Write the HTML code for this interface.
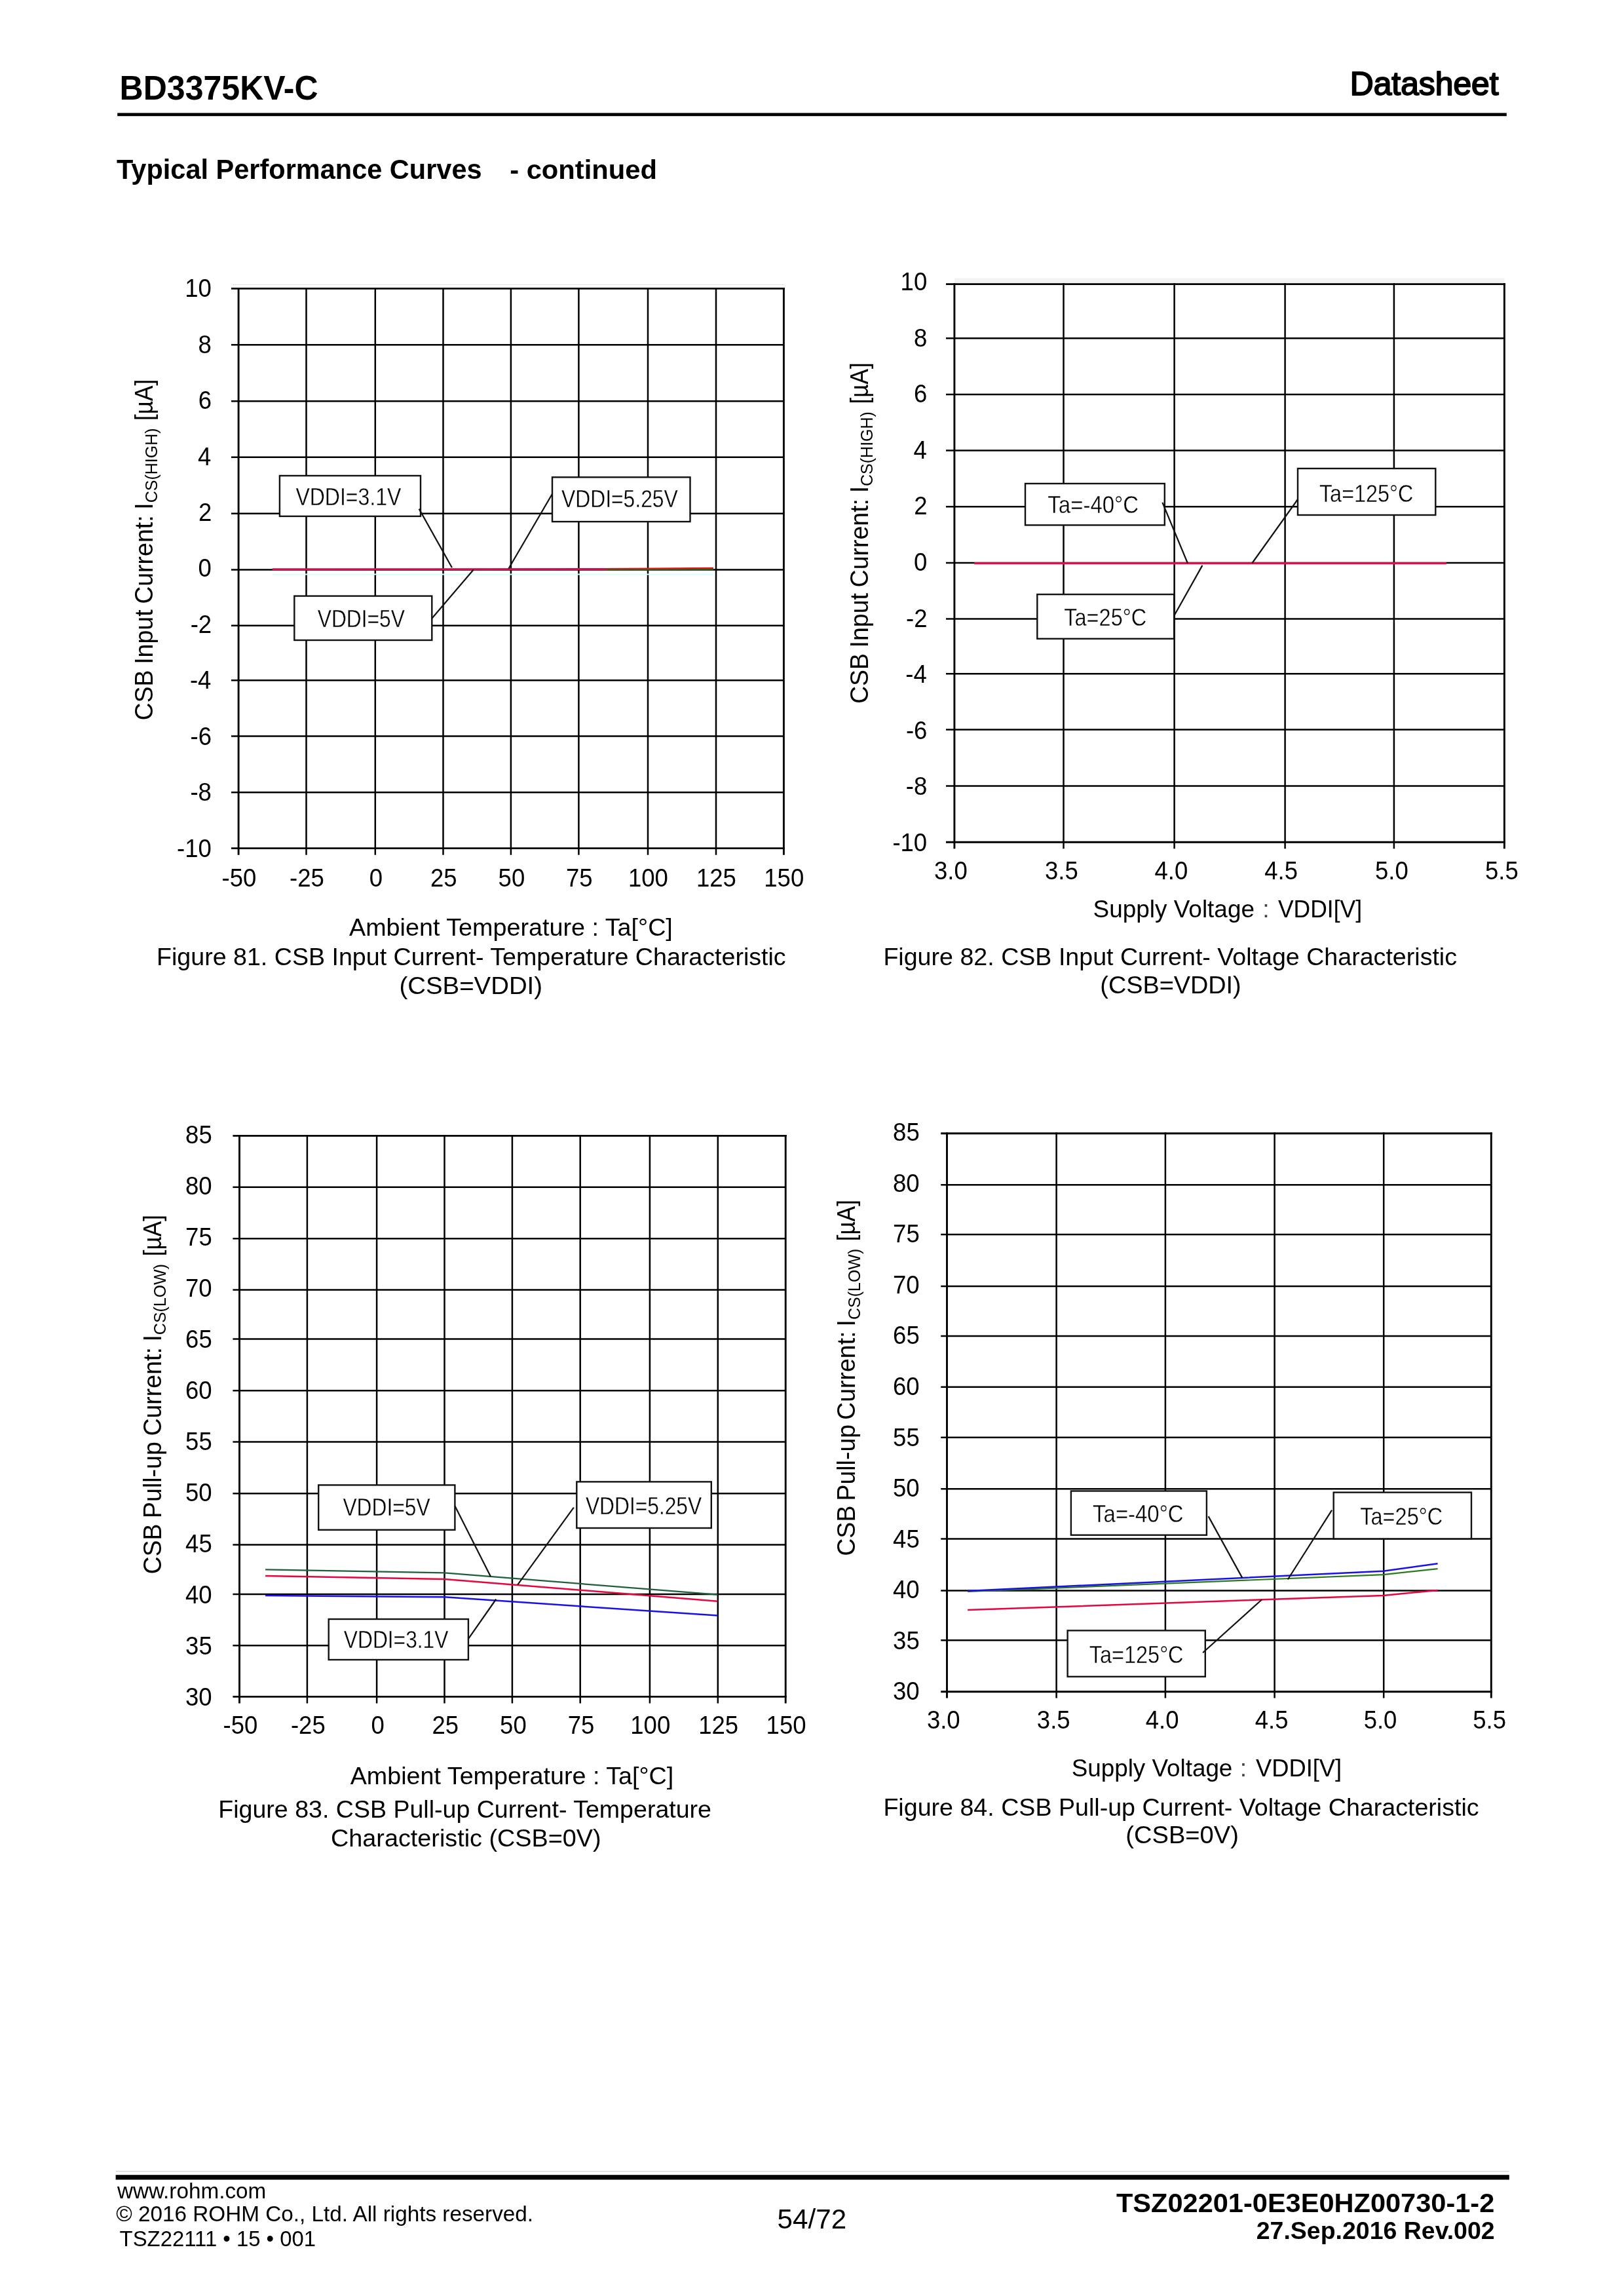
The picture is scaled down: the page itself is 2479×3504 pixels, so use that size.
<!DOCTYPE html>
<html><head><meta charset="utf-8"><title>BD3375KV-C Datasheet</title>
<style>
html,body{margin:0;padding:0;background:#fff;}
body{width:2479px;height:3504px;overflow:hidden;font-family:"Liberation Sans",sans-serif;}
svg{display:block;font-family:"Liberation Sans",sans-serif;will-change:transform;}
text{white-space:pre;}
</style></head><body>
<svg width="2479" height="3504" viewBox="0 0 2479 3504">
<text transform="translate(182.60 151.60) scale(1.0007 1.04)" font-size="50" font-weight="bold" fill="#000">BD3375KV-C</text>
<text transform="translate(2060.72 145.00) scale(0.9955 0.985)" font-size="50" fill="#000" stroke="#000" stroke-width="2.0" stroke-linejoin="round">Datasheet</text>
<rect x="179.20" y="172.40" width="2120.60" height="4.80" fill="#000"/>
<text transform="translate(178.10 273.20) scale(0.9964 1.0)" font-size="41.67" font-weight="bold" fill="#000">Typical Performance Curves</text>
<text transform="translate(778.20 273.20) scale(1.0014 0.98)" font-size="41.67" font-weight="bold" fill="#000">- continued</text>
<rect x="355.00" y="434.00" width="842.00" height="1.00" fill="#e4e4e4"/>
<line x1="364.10" y1="438.95" x2="364.10" y2="1304.70" stroke="#000" stroke-width="2.9" stroke-linecap="butt"/>
<line x1="467.50" y1="438.95" x2="467.50" y2="1304.70" stroke="#000" stroke-width="2.5" stroke-linecap="butt"/>
<line x1="572.80" y1="438.95" x2="572.80" y2="1304.70" stroke="#000" stroke-width="2.5" stroke-linecap="butt"/>
<line x1="676.50" y1="438.95" x2="676.50" y2="1304.70" stroke="#000" stroke-width="2.5" stroke-linecap="butt"/>
<line x1="779.90" y1="438.95" x2="779.90" y2="1304.70" stroke="#000" stroke-width="2.5" stroke-linecap="butt"/>
<line x1="883.40" y1="438.95" x2="883.40" y2="1304.70" stroke="#000" stroke-width="2.5" stroke-linecap="butt"/>
<line x1="989.00" y1="438.95" x2="989.00" y2="1304.70" stroke="#000" stroke-width="2.5" stroke-linecap="butt"/>
<line x1="1093.00" y1="438.95" x2="1093.00" y2="1304.70" stroke="#000" stroke-width="2.5" stroke-linecap="butt"/>
<line x1="1196.40" y1="438.95" x2="1196.40" y2="1304.70" stroke="#000" stroke-width="2.9" stroke-linecap="butt"/>
<line x1="353.00" y1="440.40" x2="1197.85" y2="440.40" stroke="#000" stroke-width="2.9" stroke-linecap="butt"/>
<line x1="353.00" y1="526.20" x2="1196.40" y2="526.20" stroke="#000" stroke-width="2.5" stroke-linecap="butt"/>
<line x1="353.00" y1="612.30" x2="1196.40" y2="612.30" stroke="#000" stroke-width="2.5" stroke-linecap="butt"/>
<line x1="353.00" y1="697.70" x2="1196.40" y2="697.70" stroke="#000" stroke-width="2.5" stroke-linecap="butt"/>
<line x1="353.00" y1="783.70" x2="1196.40" y2="783.70" stroke="#000" stroke-width="2.5" stroke-linecap="butt"/>
<line x1="353.00" y1="869.40" x2="1196.40" y2="869.40" stroke="#000" stroke-width="2.5" stroke-linecap="butt"/>
<line x1="353.00" y1="954.80" x2="1196.40" y2="954.80" stroke="#000" stroke-width="2.5" stroke-linecap="butt"/>
<line x1="353.00" y1="1038.30" x2="1196.40" y2="1038.30" stroke="#000" stroke-width="2.5" stroke-linecap="butt"/>
<line x1="353.00" y1="1123.50" x2="1196.40" y2="1123.50" stroke="#000" stroke-width="2.5" stroke-linecap="butt"/>
<line x1="353.00" y1="1209.20" x2="1196.40" y2="1209.20" stroke="#000" stroke-width="2.5" stroke-linecap="butt"/>
<line x1="353.00" y1="1294.60" x2="1197.85" y2="1294.60" stroke="#000" stroke-width="2.9" stroke-linecap="butt"/>
<text transform="translate(282.20 453.30) scale(1.0000 1.04)" font-size="36.5">10</text>
<text transform="translate(302.60 538.72) scale(1.0000 1.04)" font-size="36.5">8</text>
<text transform="translate(302.70 624.14) scale(1.0000 1.04)" font-size="36.5">6</text>
<text transform="translate(302.10 709.56) scale(1.0000 1.04)" font-size="36.5">4</text>
<text transform="translate(302.90 794.98) scale(1.0000 1.04)" font-size="36.5">2</text>
<text transform="translate(302.50 880.40) scale(1.0000 1.04)" font-size="36.5">0</text>
<text transform="translate(290.70 965.82) scale(1.0000 1.04)" font-size="36.5">-2</text>
<text transform="translate(289.90 1051.24) scale(1.0000 1.04)" font-size="36.5">-4</text>
<text transform="translate(290.50 1136.66) scale(1.0000 1.04)" font-size="36.5">-6</text>
<text transform="translate(290.40 1222.08) scale(1.0000 1.04)" font-size="36.5">-8</text>
<text transform="translate(270.00 1307.50) scale(1.0000 1.04)" font-size="36.5">-10</text>
<text transform="translate(338.60 1352.70) scale(1.0000 1.04)" font-size="36.5" fill="#000">-50</text>
<text transform="translate(442.05 1352.70) scale(1.0000 1.04)" font-size="36.5" fill="#000">-25</text>
<text transform="translate(563.65 1352.70) scale(1.0000 1.04)" font-size="36.5" fill="#000">0</text>
<text transform="translate(657.05 1352.70) scale(1.0000 1.04)" font-size="36.5" fill="#000">25</text>
<text transform="translate(760.60 1352.70) scale(1.0000 1.04)" font-size="36.5" fill="#000">50</text>
<text transform="translate(863.95 1352.70) scale(1.0000 1.04)" font-size="36.5" fill="#000">75</text>
<text transform="translate(958.90 1352.70) scale(1.0000 1.04)" font-size="36.5" fill="#000">100</text>
<text transform="translate(1062.95 1352.70) scale(1.0000 1.04)" font-size="36.5" fill="#000">125</text>
<text transform="translate(1166.30 1352.70) scale(1.0000 1.04)" font-size="36.5" fill="#000">150</text>
<line x1="415.70" y1="876.60" x2="1089.00" y2="876.60" stroke="#d6ffff" stroke-width="2.0" stroke-linecap="butt"/>
<polyline points="415.7,868.9 930.0,868.6" fill="none" stroke="#d4104e" stroke-width="3.2" stroke-linejoin="round"/>
<polyline points="925.0,869.7 1089.0,869.5" fill="none" stroke="#156b20" stroke-width="2.2" stroke-linejoin="round"/>
<polyline points="925.0,868.0 1000.0,867.6 1089.0,866.9" fill="none" stroke="#e01818" stroke-width="2.2" stroke-linejoin="round"/>
<rect x="426.90" y="726.00" width="215.10" height="61.90" fill="#fff" stroke="#111" stroke-width="2.4"/>
<text transform="translate(451.41 770.60) scale(0.9415 1.07)" font-size="34" fill="#000" stroke="#fff" stroke-width="0.35">VDDI=3.1V</text>
<rect x="843.00" y="728.30" width="210.50" height="67.80" fill="#fff" stroke="#111" stroke-width="2.4"/>
<text transform="translate(856.91 774.30) scale(0.9368 1.07)" font-size="34" fill="#000" stroke="#fff" stroke-width="0.35">VDDI=5.25V</text>
<rect x="449.30" y="909.60" width="210.00" height="67.40" fill="#fff" stroke="#111" stroke-width="2.4"/>
<text transform="translate(484.71 956.50) scale(0.9340 1.07)" font-size="34" fill="#000" stroke="#fff" stroke-width="0.35">VDDI=5V</text>
<text transform="translate(533.00 1427.90) scale(1.0061 1.0)" font-size="37.5" fill="#000">Ambient Temperature : Ta[°C]</text>
<text transform="translate(238.99 1473.00) scale(1.0030 1.0)" font-size="37.5" fill="#000">Figure 81. CSB Input Current- Temperature Characteristic</text>
<text transform="translate(609.44 1517.00) scale(1.0239 1.0)" font-size="37.5" fill="#000">(CSB=VDDI)</text>
<text transform="translate(233.20 1099.50) rotate(-90) scale(1 1.05)" font-size="37.5" word-spacing="-1.8">CSB Input Current: I<tspan font-size="25" dy="6.76">CS(HIGH)</tspan></text>
<text transform="translate(233.20 641.99) rotate(-90) scale(0.9389 1.05)" font-size="37.5">[µA]</text>
<rect x="1457.00" y="424.50" width="839.40" height="8.00" fill="#f3f3f3"/>
<line x1="1456.90" y1="432.15" x2="1456.90" y2="1295.30" stroke="#000" stroke-width="2.9" stroke-linecap="butt"/>
<line x1="1623.50" y1="432.15" x2="1623.50" y2="1295.30" stroke="#000" stroke-width="2.5" stroke-linecap="butt"/>
<line x1="1792.60" y1="432.15" x2="1792.60" y2="1295.30" stroke="#000" stroke-width="2.5" stroke-linecap="butt"/>
<line x1="1961.60" y1="432.15" x2="1961.60" y2="1295.30" stroke="#000" stroke-width="2.5" stroke-linecap="butt"/>
<line x1="2127.90" y1="432.15" x2="2127.90" y2="1295.30" stroke="#000" stroke-width="2.5" stroke-linecap="butt"/>
<line x1="2296.40" y1="432.15" x2="2296.40" y2="1295.30" stroke="#000" stroke-width="2.9" stroke-linecap="butt"/>
<line x1="1444.00" y1="433.60" x2="2297.85" y2="433.60" stroke="#000" stroke-width="2.9" stroke-linecap="butt"/>
<line x1="1444.00" y1="516.20" x2="2296.40" y2="516.20" stroke="#000" stroke-width="2.5" stroke-linecap="butt"/>
<line x1="1444.00" y1="601.90" x2="2296.40" y2="601.90" stroke="#000" stroke-width="2.5" stroke-linecap="butt"/>
<line x1="1444.00" y1="687.50" x2="2296.40" y2="687.50" stroke="#000" stroke-width="2.5" stroke-linecap="butt"/>
<line x1="1444.00" y1="773.30" x2="2296.40" y2="773.30" stroke="#000" stroke-width="2.5" stroke-linecap="butt"/>
<line x1="1444.00" y1="859.00" x2="2296.40" y2="859.00" stroke="#000" stroke-width="2.5" stroke-linecap="butt"/>
<line x1="1444.00" y1="944.60" x2="2296.40" y2="944.60" stroke="#000" stroke-width="2.5" stroke-linecap="butt"/>
<line x1="1444.00" y1="1028.30" x2="2296.40" y2="1028.30" stroke="#000" stroke-width="2.5" stroke-linecap="butt"/>
<line x1="1444.00" y1="1113.50" x2="2296.40" y2="1113.50" stroke="#000" stroke-width="2.5" stroke-linecap="butt"/>
<line x1="1444.00" y1="1199.60" x2="2296.40" y2="1199.60" stroke="#000" stroke-width="2.5" stroke-linecap="butt"/>
<line x1="1444.00" y1="1285.30" x2="2297.85" y2="1285.30" stroke="#000" stroke-width="2.9" stroke-linecap="butt"/>
<text transform="translate(1374.60 443.30) scale(1.0000 1.04)" font-size="36.5">10</text>
<text transform="translate(1395.00 528.84) scale(1.0000 1.04)" font-size="36.5">8</text>
<text transform="translate(1395.10 614.38) scale(1.0000 1.04)" font-size="36.5">6</text>
<text transform="translate(1394.50 699.92) scale(1.0000 1.04)" font-size="36.5">4</text>
<text transform="translate(1395.30 785.46) scale(1.0000 1.04)" font-size="36.5">2</text>
<text transform="translate(1394.90 871.00) scale(1.0000 1.04)" font-size="36.5">0</text>
<text transform="translate(1383.10 956.54) scale(1.0000 1.04)" font-size="36.5">-2</text>
<text transform="translate(1382.30 1042.08) scale(1.0000 1.04)" font-size="36.5">-4</text>
<text transform="translate(1382.90 1127.62) scale(1.0000 1.04)" font-size="36.5">-6</text>
<text transform="translate(1382.80 1213.16) scale(1.0000 1.04)" font-size="36.5">-8</text>
<text transform="translate(1362.40 1298.70) scale(1.0000 1.04)" font-size="36.5">-10</text>
<text transform="translate(1426.00 1342.00) scale(1.0000 1.04)" font-size="36.5" fill="#000">3.0</text>
<text transform="translate(1595.05 1342.00) scale(1.0000 1.04)" font-size="36.5" fill="#000">3.5</text>
<text transform="translate(1762.55 1342.00) scale(1.0000 1.04)" font-size="36.5" fill="#000">4.0</text>
<text transform="translate(1930.30 1342.00) scale(1.0000 1.04)" font-size="36.5" fill="#000">4.5</text>
<text transform="translate(2098.95 1342.00) scale(1.0000 1.04)" font-size="36.5" fill="#000">5.0</text>
<text transform="translate(2267.00 1342.00) scale(1.0000 1.04)" font-size="36.5" fill="#000">5.5</text>
<polyline points="1487.2,859.6 2207.8,859.6" fill="none" stroke="#e0104e" stroke-width="3.2" stroke-linejoin="round"/>
<rect x="1565.00" y="738.00" width="212.80" height="63.40" fill="#fff" stroke="#111" stroke-width="2.4"/>
<text transform="translate(1599.32 782.70) scale(0.9709 1.07)" font-size="34" fill="#000" stroke="#fff" stroke-width="0.35">Ta=-40°C</text>
<rect x="1981.00" y="715.00" width="210.30" height="71.00" fill="#fff" stroke="#111" stroke-width="2.4"/>
<text transform="translate(2013.93 765.90) scale(0.9529 1.07)" font-size="34" fill="#000" stroke="#fff" stroke-width="0.35">Ta=125°C</text>
<rect x="1583.30" y="907.10" width="208.90" height="67.70" fill="#fff" stroke="#111" stroke-width="2.4"/>
<text transform="translate(1624.33 955.00) scale(0.9553 1.07)" font-size="34" fill="#000" stroke="#fff" stroke-width="0.35">Ta=25°C</text>
<text transform="translate(1668.52 1400.20) scale(0.9854 1.0)" font-size="37.5" fill="#000">Supply Voltage</text>
<text transform="translate(1927.30 1400.20) scale(1.0000 1.0)" font-size="37.5" fill="#444">:</text>
<text transform="translate(1950.91 1400.20) scale(0.9465 1.0)" font-size="37.5" fill="#000">VDDI[V]</text>
<text transform="translate(1348.39 1473.20) scale(1.0028 1.0)" font-size="37.5" fill="#000">Figure 82. CSB Input Current- Voltage Characteristic</text>
<text transform="translate(1679.28 1516.30) scale(1.0091 1.0)" font-size="37.5" fill="#000">(CSB=VDDI)</text>
<text transform="translate(1324.90 1074.10) rotate(-90) scale(1 1.05)" font-size="37.5" word-spacing="-1.8">CSB Input Current: I<tspan font-size="25" dy="6.76">CS(HIGH)</tspan></text>
<text transform="translate(1324.90 616.59) rotate(-90) scale(0.9389 1.05)" font-size="37.5">[µA]</text>
<line x1="365.50" y1="1731.95" x2="365.50" y2="2599.60" stroke="#000" stroke-width="2.9" stroke-linecap="butt"/>
<line x1="468.90" y1="1731.95" x2="468.90" y2="2599.60" stroke="#000" stroke-width="2.5" stroke-linecap="butt"/>
<line x1="575.10" y1="1731.95" x2="575.10" y2="2599.60" stroke="#000" stroke-width="2.5" stroke-linecap="butt"/>
<line x1="678.50" y1="1731.95" x2="678.50" y2="2599.60" stroke="#000" stroke-width="2.5" stroke-linecap="butt"/>
<line x1="781.90" y1="1731.95" x2="781.90" y2="2599.60" stroke="#000" stroke-width="2.5" stroke-linecap="butt"/>
<line x1="885.70" y1="1731.95" x2="885.70" y2="2599.60" stroke="#000" stroke-width="2.5" stroke-linecap="butt"/>
<line x1="991.90" y1="1731.95" x2="991.90" y2="2599.60" stroke="#000" stroke-width="2.5" stroke-linecap="butt"/>
<line x1="1095.80" y1="1731.95" x2="1095.80" y2="2599.60" stroke="#000" stroke-width="2.5" stroke-linecap="butt"/>
<line x1="1199.20" y1="1731.95" x2="1199.20" y2="2599.60" stroke="#000" stroke-width="2.9" stroke-linecap="butt"/>
<line x1="355.40" y1="1733.40" x2="1200.65" y2="1733.40" stroke="#000" stroke-width="2.9" stroke-linecap="butt"/>
<line x1="355.40" y1="1811.80" x2="1199.20" y2="1811.80" stroke="#000" stroke-width="2.5" stroke-linecap="butt"/>
<line x1="355.40" y1="1890.30" x2="1199.20" y2="1890.30" stroke="#000" stroke-width="2.5" stroke-linecap="butt"/>
<line x1="355.40" y1="1968.50" x2="1199.20" y2="1968.50" stroke="#000" stroke-width="2.5" stroke-linecap="butt"/>
<line x1="355.40" y1="2043.60" x2="1199.20" y2="2043.60" stroke="#000" stroke-width="2.5" stroke-linecap="butt"/>
<line x1="355.40" y1="2122.30" x2="1199.20" y2="2122.30" stroke="#000" stroke-width="2.5" stroke-linecap="butt"/>
<line x1="355.40" y1="2200.50" x2="1199.20" y2="2200.50" stroke="#000" stroke-width="2.5" stroke-linecap="butt"/>
<line x1="355.40" y1="2279.20" x2="1199.20" y2="2279.20" stroke="#000" stroke-width="2.5" stroke-linecap="butt"/>
<line x1="355.40" y1="2357.40" x2="1199.20" y2="2357.40" stroke="#000" stroke-width="2.5" stroke-linecap="butt"/>
<line x1="355.40" y1="2433.10" x2="1199.20" y2="2433.10" stroke="#000" stroke-width="2.5" stroke-linecap="butt"/>
<line x1="355.40" y1="2511.20" x2="1199.20" y2="2511.20" stroke="#000" stroke-width="2.5" stroke-linecap="butt"/>
<line x1="355.40" y1="2589.40" x2="1200.65" y2="2589.40" stroke="#000" stroke-width="2.9" stroke-linecap="butt"/>
<text transform="translate(283.10 1744.50) scale(1.0000 1.04)" font-size="36.5">85</text>
<text transform="translate(283.00 1822.56) scale(1.0000 1.04)" font-size="36.5">80</text>
<text transform="translate(283.10 1900.62) scale(1.0000 1.04)" font-size="36.5">75</text>
<text transform="translate(283.00 1978.68) scale(1.0000 1.04)" font-size="36.5">70</text>
<text transform="translate(283.10 2056.74) scale(1.0000 1.04)" font-size="36.5">65</text>
<text transform="translate(283.00 2134.80) scale(1.0000 1.04)" font-size="36.5">60</text>
<text transform="translate(283.10 2212.86) scale(1.0000 1.04)" font-size="36.5">55</text>
<text transform="translate(283.00 2290.92) scale(1.0000 1.04)" font-size="36.5">50</text>
<text transform="translate(283.10 2368.98) scale(1.0000 1.04)" font-size="36.5">45</text>
<text transform="translate(283.00 2447.04) scale(1.0000 1.04)" font-size="36.5">40</text>
<text transform="translate(283.10 2525.10) scale(1.0000 1.04)" font-size="36.5">35</text>
<text transform="translate(283.00 2603.16) scale(1.0000 1.04)" font-size="36.5">30</text>
<text transform="translate(340.50 2646.40) scale(1.0000 1.04)" font-size="36.5" fill="#000">-50</text>
<text transform="translate(443.95 2646.40) scale(1.0000 1.04)" font-size="36.5" fill="#000">-25</text>
<text transform="translate(566.45 2646.40) scale(1.0000 1.04)" font-size="36.5" fill="#000">0</text>
<text transform="translate(659.55 2646.40) scale(1.0000 1.04)" font-size="36.5" fill="#000">25</text>
<text transform="translate(763.10 2646.40) scale(1.0000 1.04)" font-size="36.5" fill="#000">50</text>
<text transform="translate(866.75 2646.40) scale(1.0000 1.04)" font-size="36.5" fill="#000">75</text>
<text transform="translate(962.30 2646.40) scale(1.0000 1.04)" font-size="36.5" fill="#000">100</text>
<text transform="translate(1066.25 2646.40) scale(1.0000 1.04)" font-size="36.5" fill="#000">125</text>
<text transform="translate(1169.60 2646.40) scale(1.0000 1.04)" font-size="36.5" fill="#000">150</text>
<polyline points="405.1,2395.4 678.5,2400.4 1095.4,2433.7" fill="none" stroke="#1f5f3c" stroke-width="2.2" stroke-linejoin="round"/>
<polyline points="405.1,2405.0 678.5,2410.0 1095.4,2443.7" fill="none" stroke="#e4063c" stroke-width="2.5" stroke-linejoin="round"/>
<polyline points="405.1,2435.0 678.5,2437.3 1095.4,2465.6" fill="none" stroke="#1a10e8" stroke-width="2.5" stroke-linejoin="round"/>
<rect x="486.20" y="2266.40" width="208.20" height="68.40" fill="#fff" stroke="#111" stroke-width="2.4"/>
<text transform="translate(523.41 2312.90) scale(0.9340 1.07)" font-size="34" fill="#000" stroke="#fff" stroke-width="0.35">VDDI=5V</text>
<rect x="880.30" y="2261.40" width="205.50" height="70.60" fill="#fff" stroke="#111" stroke-width="2.4"/>
<text transform="translate(893.91 2310.60) scale(0.9336 1.07)" font-size="34" fill="#000" stroke="#fff" stroke-width="0.35">VDDI=5.25V</text>
<rect x="501.70" y="2471.00" width="213.20" height="62.00" fill="#fff" stroke="#111" stroke-width="2.4"/>
<text transform="translate(524.81 2514.80) scale(0.9333 1.07)" font-size="34" fill="#000" stroke="#fff" stroke-width="0.35">VDDI=3.1V</text>
<text transform="translate(534.70 2722.90) scale(1.0057 1.0)" font-size="37.5" fill="#000">Ambient Temperature : Ta[°C]</text>
<text transform="translate(333.29 2774.40) scale(1.0017 1.0)" font-size="37.5" fill="#000">Figure 83. CSB Pull-up Current- Temperature</text>
<text transform="translate(505.09 2817.70) scale(1.0076 1.0)" font-size="37.5" fill="#000">Characteristic (CSB=0V)</text>
<text transform="translate(245.80 2402.60) rotate(-90) scale(1 1.05)" font-size="37.5" word-spacing="-1.8">CSB Pull-up Current: I<tspan font-size="25" dy="6.76">CS(LOW)</tspan></text>
<text transform="translate(245.80 1917.37) rotate(-90) scale(0.9389 1.05)" font-size="37.5">[µA]</text>
<line x1="1445.50" y1="1728.25" x2="1445.50" y2="2591.50" stroke="#000" stroke-width="2.9" stroke-linecap="butt"/>
<line x1="1612.60" y1="1728.25" x2="1612.60" y2="2591.50" stroke="#000" stroke-width="2.5" stroke-linecap="butt"/>
<line x1="1778.90" y1="1728.25" x2="1778.90" y2="2591.50" stroke="#000" stroke-width="2.5" stroke-linecap="butt"/>
<line x1="1945.60" y1="1728.25" x2="1945.60" y2="2591.50" stroke="#000" stroke-width="2.5" stroke-linecap="butt"/>
<line x1="2112.20" y1="1728.25" x2="2112.20" y2="2591.50" stroke="#000" stroke-width="2.5" stroke-linecap="butt"/>
<line x1="2276.30" y1="1728.25" x2="2276.30" y2="2591.50" stroke="#000" stroke-width="2.9" stroke-linecap="butt"/>
<line x1="1436.20" y1="1729.70" x2="2277.75" y2="1729.70" stroke="#000" stroke-width="2.9" stroke-linecap="butt"/>
<line x1="1436.20" y1="1808.20" x2="2276.30" y2="1808.20" stroke="#000" stroke-width="2.5" stroke-linecap="butt"/>
<line x1="1436.20" y1="1883.90" x2="2276.30" y2="1883.90" stroke="#000" stroke-width="2.5" stroke-linecap="butt"/>
<line x1="1436.20" y1="1962.90" x2="2276.30" y2="1962.90" stroke="#000" stroke-width="2.5" stroke-linecap="butt"/>
<line x1="1436.20" y1="2039.00" x2="2276.30" y2="2039.00" stroke="#000" stroke-width="2.5" stroke-linecap="butt"/>
<line x1="1436.20" y1="2116.80" x2="2276.30" y2="2116.80" stroke="#000" stroke-width="2.5" stroke-linecap="butt"/>
<line x1="1436.20" y1="2193.70" x2="2276.30" y2="2193.70" stroke="#000" stroke-width="2.5" stroke-linecap="butt"/>
<line x1="1436.20" y1="2272.20" x2="2276.30" y2="2272.20" stroke="#000" stroke-width="2.5" stroke-linecap="butt"/>
<line x1="1436.20" y1="2348.40" x2="2276.30" y2="2348.40" stroke="#000" stroke-width="2.5" stroke-linecap="butt"/>
<line x1="1436.20" y1="2427.50" x2="2276.30" y2="2427.50" stroke="#000" stroke-width="2.5" stroke-linecap="butt"/>
<line x1="1436.20" y1="2503.30" x2="2276.30" y2="2503.30" stroke="#000" stroke-width="2.5" stroke-linecap="butt"/>
<line x1="1436.20" y1="2581.80" x2="2277.75" y2="2581.80" stroke="#000" stroke-width="2.9" stroke-linecap="butt"/>
<text transform="translate(1363.10 1741.30) scale(1.0000 1.04)" font-size="36.5">85</text>
<text transform="translate(1363.00 1818.84) scale(1.0000 1.04)" font-size="36.5">80</text>
<text transform="translate(1363.10 1896.38) scale(1.0000 1.04)" font-size="36.5">75</text>
<text transform="translate(1363.00 1973.92) scale(1.0000 1.04)" font-size="36.5">70</text>
<text transform="translate(1363.10 2051.46) scale(1.0000 1.04)" font-size="36.5">65</text>
<text transform="translate(1363.00 2129.00) scale(1.0000 1.04)" font-size="36.5">60</text>
<text transform="translate(1363.10 2206.54) scale(1.0000 1.04)" font-size="36.5">55</text>
<text transform="translate(1363.00 2284.08) scale(1.0000 1.04)" font-size="36.5">50</text>
<text transform="translate(1363.10 2361.62) scale(1.0000 1.04)" font-size="36.5">45</text>
<text transform="translate(1363.00 2439.16) scale(1.0000 1.04)" font-size="36.5">40</text>
<text transform="translate(1363.10 2516.70) scale(1.0000 1.04)" font-size="36.5">35</text>
<text transform="translate(1363.00 2594.24) scale(1.0000 1.04)" font-size="36.5">30</text>
<text transform="translate(1414.90 2638.30) scale(1.0000 1.04)" font-size="36.5" fill="#000">3.0</text>
<text transform="translate(1582.85 2638.30) scale(1.0000 1.04)" font-size="36.5" fill="#000">3.5</text>
<text transform="translate(1748.75 2638.30) scale(1.0000 1.04)" font-size="36.5" fill="#000">4.0</text>
<text transform="translate(1915.70 2638.30) scale(1.0000 1.04)" font-size="36.5" fill="#000">4.5</text>
<text transform="translate(2081.65 2638.30) scale(1.0000 1.04)" font-size="36.5" fill="#000">5.0</text>
<text transform="translate(2248.30 2638.30) scale(1.0000 1.04)" font-size="36.5" fill="#000">5.5</text>
<polyline points="1477.1,2429.0 2111.5,2403.1 2194.6,2394.1" fill="none" stroke="#2a7a1e" stroke-width="2.2" stroke-linejoin="round"/>
<polyline points="1477.1,2428.0 2111.5,2397.8 2194.6,2386.2" fill="none" stroke="#1a10e8" stroke-width="2.5" stroke-linejoin="round"/>
<polyline points="1477.1,2457.1 2111.5,2434.9 2194.6,2426.9" fill="none" stroke="#e4063c" stroke-width="2.5" stroke-linejoin="round"/>
<rect x="1634.90" y="2275.50" width="207.00" height="67.20" fill="#fff" stroke="#111" stroke-width="2.4"/>
<text transform="translate(1668.12 2323.10) scale(0.9681 1.07)" font-size="34" fill="#000" stroke="#fff" stroke-width="0.35">Ta=-40°C</text>
<rect x="2035.70" y="2277.60" width="210.30" height="70.80" fill="#fff" stroke="#111" stroke-width="2.4"/>
<text transform="translate(2076.33 2327.40) scale(0.9553 1.07)" font-size="34" fill="#000" stroke="#fff" stroke-width="0.35">Ta=25°C</text>
<rect x="1629.60" y="2488.40" width="210.20" height="70.40" fill="#fff" stroke="#111" stroke-width="2.4"/>
<text transform="translate(1662.83 2538.10) scale(0.9543 1.07)" font-size="34" fill="#000" stroke="#fff" stroke-width="0.35">Ta=125°C</text>
<text transform="translate(1635.63 2711.40) scale(0.9826 1.0)" font-size="37.5" fill="#000">Supply Voltage</text>
<text transform="translate(1892.80 2711.40) scale(1.0000 1.0)" font-size="37.5" fill="#444">:</text>
<text transform="translate(1916.90 2711.40) scale(0.9699 1.0)" font-size="37.5" fill="#000">VDDI[V]</text>
<text transform="translate(1348.39 2771.00) scale(1.0032 1.0)" font-size="37.5" fill="#000">Figure 84. CSB Pull-up Current- Voltage Characteristic</text>
<text transform="translate(1718.26 2813.00) scale(1.0163 1.0)" font-size="37.5" fill="#000">(CSB=0V)</text>
<text transform="translate(1305.40 2374.70) rotate(-90) scale(1 1.05)" font-size="37.5" word-spacing="-3.4">CSB Pull-up Current: I<tspan font-size="25" dy="6.76">CS(LOW)</tspan></text>
<text transform="translate(1305.40 1894.27) rotate(-90) scale(0.9389 1.05)" font-size="37.5">[µA]</text>
<line x1="639.70" y1="776.60" x2="689.90" y2="866.30" stroke="#111" stroke-width="2.2"/>
<line x1="843.00" y1="753.80" x2="776.40" y2="867.70" stroke="#111" stroke-width="2.2"/>
<line x1="659.30" y1="943.80" x2="722.70" y2="869.50" stroke="#111" stroke-width="2.2"/>
<line x1="1774.40" y1="766.80" x2="1812.90" y2="859.50" stroke="#111" stroke-width="2.2"/>
<line x1="1981.00" y1="762.00" x2="1911.30" y2="859.50" stroke="#111" stroke-width="2.2"/>
<line x1="1792.20" y1="939.80" x2="1835.40" y2="862.90" stroke="#111" stroke-width="2.2"/>
<line x1="694.40" y1="2298.30" x2="749.10" y2="2406.30" stroke="#111" stroke-width="2.2"/>
<line x1="875.80" y1="2300.60" x2="790.10" y2="2418.60" stroke="#111" stroke-width="2.2"/>
<line x1="714.90" y1="2501.10" x2="757.30" y2="2440.50" stroke="#111" stroke-width="2.2"/>
<line x1="1844.60" y1="2314.10" x2="1896.50" y2="2408.40" stroke="#111" stroke-width="2.2"/>
<line x1="2033.10" y1="2304.60" x2="1965.80" y2="2410.50" stroke="#111" stroke-width="2.2"/>
<line x1="1836.10" y1="2522.20" x2="1926.10" y2="2441.20" stroke="#111" stroke-width="2.2"/>
<rect x="176.60" y="3313.20" width="2127.20" height="1.20" fill="#cfcfcf"/>
<rect x="176.60" y="3319.20" width="2127.20" height="7.30" fill="#000"/>
<text transform="translate(178.90 3354.70) scale(0.9991 1.02)" font-size="33.3" fill="#000">www.rohm.com</text>
<text transform="translate(177.20 3389.80) scale(0.9998 1.02)" font-size="33.3" fill="#000">© 2016 ROHM Co., Ltd. All rights reserved.</text>
<text transform="translate(182.61 3427.50) scale(0.9874 1.02)" font-size="33.3" fill="#000">TSZ22111 • 15 • 001</text>
<text transform="translate(1186.58 3401.20) scale(1.0129 1.04)" font-size="41.67" fill="#000">54/72</text>
<text transform="translate(1704.00 3376.40) scale(0.9972 0.965)" font-size="41.67" font-weight="bold" fill="#000">TSZ02201-0E3E0HZ00730-1-2</text>
<text transform="translate(1917.70 3417.00) scale(0.9997 1.0)" font-size="37.5" font-weight="bold" fill="#000">27.Sep.2016 Rev.002</text>
</svg>
</body></html>
